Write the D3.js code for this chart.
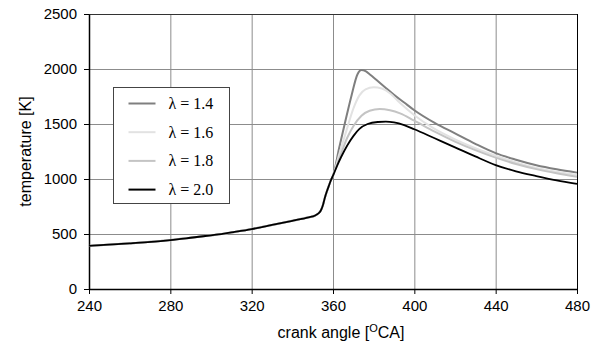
<!DOCTYPE html>
<meta charset="utf-8">
<style>
    html,
    body {
        margin: 0;
        padding: 0;
        background: #fff;
    }

    svg {
        display: block;
    }
</style>

<body>
    <svg width="601" height="347"></svg>
    <script src="https://cdn.jsdelivr.net/npm/d3@7"></script>
    <script>
        // shared compression part (all four curves lie on top of each other)
        const baseCurve = [[240, 392], [260, 415], [280, 445], [290, 466], [300, 488], [305, 499], [310, 514],
            [320, 545], [330, 582], [340, 620], [348, 652], [351, 666], [352, 677], [353, 690], [354, 714],
            [355, 760], [356, 830], [357, 888], [358, 940], [359, 990], [360, 1030]];

        const lambda14 = [[363, 1280], [366, 1520], [369, 1750], [372, 1950], [374, 1990], [376, 1980], [378, 1952],
            [382, 1890], [386, 1828], [390, 1765], [395, 1695], [400, 1625], [410, 1510], [420, 1415], [430, 1320],
            [440, 1235], [450, 1175], [460, 1125], [470, 1088], [480, 1058]];
        const lambda16 = [[363, 1220], [367, 1465], [370, 1640], [373, 1760], [376, 1815], [380, 1833], [384, 1822],
            [388, 1780], [393, 1690], [400, 1580], [410, 1455], [420, 1360], [430, 1280], [440, 1212], [450, 1150],
            [460, 1100], [470, 1065], [480, 1036]];
        const lambda18 = [[363, 1180], [367, 1375], [370, 1480], [374, 1575], [378, 1620], [383, 1636], [388, 1625],
            [393, 1597], [400, 1530], [410, 1430], [420, 1340], [430, 1262], [440, 1194], [450, 1137], [460, 1090],
            [470, 1052], [480, 1020]];
        const lambda20 = [[362, 1120], [364, 1200], [367, 1305], [370, 1390], [373, 1455], [377, 1500], [382, 1518],
            [386, 1521], [390, 1514], [395, 1490], [400, 1452], [410, 1370], [420, 1288], [430, 1205], [440, 1127],
            [450, 1070], [460, 1027], [470, 988], [480, 955]];

        const seriesNames = ['λ = 1.4', 'λ = 1.6', 'λ = 1.8', 'λ = 2.0'];
        const seriesColors = ['#7f7f7f', '#e2e2e2', '#c4c4c4', '#000'];
        const xTicks = [240, 280, 320, 360, 400, 440, 480];
        const yTicks = [0, 500, 1000, 1500, 2000, 2500];

        const svg = d3.select('svg');
        const plotLeft = 89, plotRight = 577, plotTop = 14, plotBottom = 289;
        const sans = "'Liberation Sans', Arial, sans-serif";
        const serif = "'Liberation Serif', 'Times New Roman', 'DejaVu Serif', serif";

        const x = d3.scaleLinear().domain([240, 480]).range([plotLeft, plotRight]);
        const y = d3.scaleLinear().domain([0, 2500]).range([plotBottom, plotTop]);

        // grid
        svg.append('g')
            .attr('transform', `translate(0,${plotBottom})`)
            .call(d3.axisBottom(x).tickValues(xTicks.slice(1, -1)).tickSize(-(plotBottom - plotTop)).tickFormat(''))
            .call(g => g.select('.domain').remove())
            .call(g => g.selectAll('line').attr('stroke', '#8c8c8c'));
        svg.append('g')
            .attr('transform', `translate(${plotLeft},0)`)
            .call(d3.axisLeft(y).tickValues(yTicks.slice(1, -1)).tickSize(-(plotRight - plotLeft)).tickFormat(''))
            .call(g => g.select('.domain').remove())
            .call(g => g.selectAll('line').attr('stroke', '#8c8c8c'));

        // frame top / right
        svg.append('line').attr('x1', plotLeft).attr('x2', plotRight).attr('y1', plotTop + 0.5).attr('y2', plotTop + 0.5)
            .attr('stroke', '#333');
        svg.append('line').attr('x1', plotRight + 0.5).attr('x2', plotRight + 0.5).attr('y1', plotTop).attr('y2', plotBottom)
            .attr('stroke', '#000');

        // axes
        const xAxis = svg.append('g')
            .attr('transform', `translate(0,${plotBottom})`)
            .call(d3.axisBottom(x).tickValues(xTicks).tickFormat(d3.format('d'))
                .tickSize(5).tickSizeOuter(0).tickPadding(6));
        const yAxis = svg.append('g')
            .attr('transform', `translate(${plotLeft},0)`)
            .call(d3.axisLeft(y).tickValues(yTicks).tickFormat(d3.format('d'))
                .tickSize(5).tickSizeOuter(0).tickPadding(7));
        [xAxis, yAxis].forEach(a => {
            a.select('.domain').attr('stroke', '#000').attr('stroke-width', 1.5);
            a.selectAll('line').attr('stroke', '#000');
            a.selectAll('text').attr('font-family', sans)
                .attr('font-size', 15).attr('fill', '#000');
        });

        // curves
        const line = d3.line()
            .x(d => x(d[0]))
            .y(d => y(d[1]))
            .curve(d3.curveMonotoneX);
        [lambda14, lambda16, lambda18, lambda20].forEach((s, i) => {
            svg.append('path')
                .attr('d', line(baseCurve.concat(s)))
                .attr('fill', 'none')
                .attr('stroke', seriesColors[i])
                .attr('stroke-width', i === 3 ? 1.8 : 2);
        });

        // legend
        const legend = svg.append('g').attr('transform', 'translate(113.5,87.5)');
        legend.append('rect').attr('width', 116).attr('height', 116)
            .attr('fill', '#fff').attr('stroke', '#444');
        seriesNames.forEach((name, i) => {
            const ly = 16 + i * 28.7;
            legend.append('line').attr('x1', 15).attr('x2', 42).attr('y1', ly).attr('y2', ly)
                .attr('stroke', seriesColors[i]).attr('stroke-width', 2);
            legend.append('text').attr('x', 55).attr('y', ly + 5.5)
                .attr('font-family', serif)
                .attr('font-size', 16).text(name);
        });

        // axis titles
        const xTitle = svg.append('text')
            .attr('x', 341).attr('y', 338)
            .attr('text-anchor', 'middle')
            .attr('font-family', sans)
            .attr('font-size', 16);
        xTitle.append('tspan').text('crank angle [');
        xTitle.append('tspan').attr('dy', -6).attr('font-size', 11).text('O');
        xTitle.append('tspan').attr('dy', 6).text('CA]');

        svg.append('text')
            .attr('transform', `translate(31,${(plotTop + plotBottom) / 2}) rotate(-90)`)
            .attr('text-anchor', 'middle')
            .attr('font-family', sans)
            .attr('font-size', 16)
            .text('temperature [K]');
    </script>
</body>

</html>
